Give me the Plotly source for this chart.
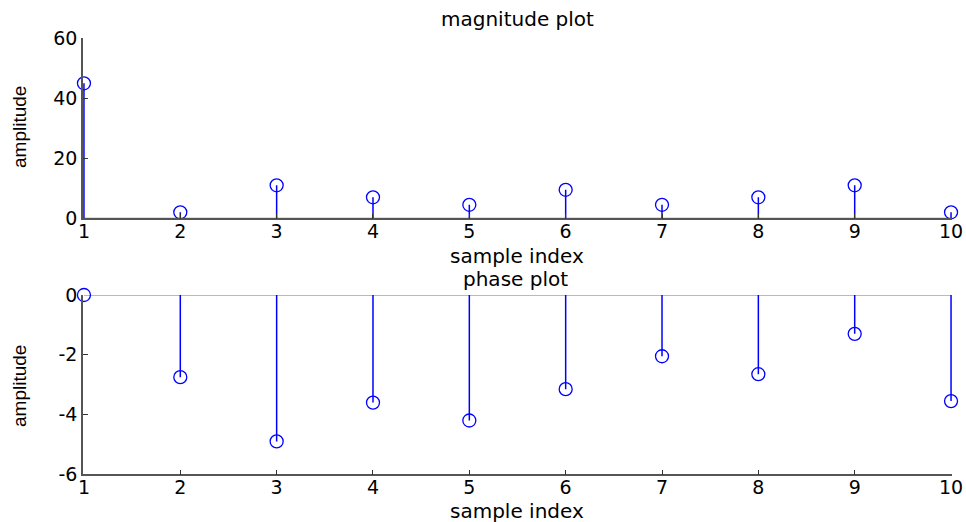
import plotly.graph_objects as go

# DFT of a 10-sample sequence: magnitude and phase per sample index
sample_index = [1, 2, 3, 4, 5, 6, 7, 8, 9, 10]
magnitude = [45.0, 2.0, 11.0, 7.0, 4.5, 9.5, 4.5, 7.0, 11.0, 2.0]
phase = [0.0, -2.75, -4.9, -3.6, -4.2, -3.15, -2.05, -2.65, -1.3, -3.55]

mag_ticks = [0, 20, 40, 60]
phase_ticks = [-6, -4, -2, 0]

W, H = 966, 522
STEM = "#0000ff"
AXIS = "#555555"
FONT = "DejaVu Sans"


def stem_xy(xs, ys):
    sx, sy = [], []
    for x, y in zip(xs, ys):
        sx += [x, x, None]
        sy += [0, y, None]
    return sx, sy


fig = go.Figure()

for xa, ya, vals in (("x", "y", magnitude), ("x2", "y2", phase)):
    # baseline at zero
    fig.add_trace(go.Scatter(
        x=[sample_index[0], sample_index[-1]], y=[0, 0], xaxis=xa, yaxis=ya,
        mode="lines", line=dict(color="#777777", width=1.2),
        hoverinfo="skip", showlegend=False, cliponaxis=False))
    sx, sy = stem_xy(sample_index, vals)
    fig.add_trace(go.Scatter(
        x=sx, y=sy, xaxis=xa, yaxis=ya, mode="lines",
        line=dict(color=STEM, width=1.5),
        hoverinfo="skip", showlegend=False, cliponaxis=False))
    fig.add_trace(go.Scatter(
        x=sample_index, y=vals, xaxis=xa, yaxis=ya, mode="markers",
        marker=dict(symbol="circle-open", size=13, color=STEM,
                    line=dict(color=STEM, width=1.3)),
        showlegend=False, cliponaxis=False))

xdom = [83 / W, 952 / W]
xrange = [0.99, 10.01]
axis_common = dict(
    showline=True, linecolor=AXIS, linewidth=1.5, mirror=False,
    ticks="inside", ticklen=5, tickwidth=1.2, tickcolor="#333333",
    showgrid=False, zeroline=False, automargin=False,
    tickfont=dict(family=FONT, size=19, color="#000000"),
)

fig.update_layout(
    width=W, height=H,
    margin=dict(l=0, r=0, t=0, b=0),
    paper_bgcolor="white", plot_bgcolor="white",
    xaxis=dict(domain=xdom, anchor="y", range=xrange, ticklabelstandoff=-5,
               tickvals=sample_index, **axis_common),
    yaxis=dict(domain=[1 - 218.3 / H, 1 - 38.3 / H], anchor="x",
               range=[0, 60], tickvals=mag_ticks,
               ticktext=[str(v) for v in mag_ticks], **axis_common),
    xaxis2=dict(domain=xdom, anchor="y2", range=xrange, ticklabelstandoff=-5,
                tickvals=sample_index, **axis_common),
    yaxis2=dict(domain=[1 - 474.3 / H, 1 - 295 / H], anchor="x2",
                range=[-6, 0], tickvals=phase_ticks,
                ticktext=[str(v) for v in phase_ticks], **axis_common),
)


def label(text, px, py, angle=0, font=FONT, size=20):
    fig.add_annotation(
        text=text, x=px / W, y=1 - py / H, xref="paper", yref="paper",
        xanchor="center", yanchor="middle", showarrow=False,
        textangle=angle, font=dict(family=font, size=size, color="#000000"))


NARROW = "Liberation Sans Narrow, Liberation Sans"
label("magnitude plot", 517, 19)
label("sample index", 517, 256)
label("phase plot", 515, 279)
label("sample index", 517, 511)
label("amplitude", 19, 127, angle=-90, font=NARROW, size=19)
label("amplitude", 19, 386, angle=-90, font=NARROW, size=19)

fig.write_html("out.html")
